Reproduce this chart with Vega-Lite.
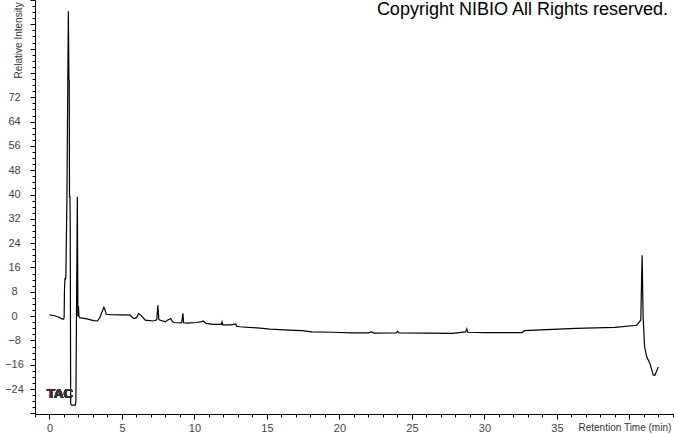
{
  "$schema": "https://vega.github.io/schema/vega-lite/v6.json",
  "width": 639,
  "height": 414,
  "autosize": {"type": "none"},
  "padding": {"left": 35, "top": 0, "right": 0, "bottom": 20},
  "background": "white",
  "config": {
    "view": {"stroke": null},
    "font": "Liberation Sans",
    "axis": {"grid": false, "domainColor": "#000", "tickColor": "#000", "labelColor": "#444", "labelFont": "Liberation Sans", "labelFontSize": 11, "titleFont": "Liberation Sans", "titleFontSize": 10, "titleFontWeight": "normal", "titleColor": "#333", "tickSize": 5}
  },
  "title": {"text": "Copyright NIBIO All Rights reserved.", "anchor": "end", "orient": "top", "offset": -39, "baseline": "alphabetic", "dx": -6, "fontSize": 18, "fontWeight": "normal", "font": "Liberation Sans", "color": "#000"},
  "data": {"values": [
    {"t": 0.00, "v": 0.4}, {"t": 0.30, "v": 0.2}, {"t": 0.60, "v": -0.3}, {"t": 0.90, "v": -1.0}, {"t": 0.98, "v": -1.0},
    {"t": 1.01, "v": -0.3}, {"t": 1.03, "v": 8.0}, {"t": 1.07, "v": 12.5}, {"t": 1.10, "v": 12.0}, {"t": 1.13, "v": 13.0},
    {"t": 1.20, "v": 38.0}, {"t": 1.30, "v": 100.3}, {"t": 1.34, "v": 78.0}, {"t": 1.36, "v": 77.5}, {"t": 1.38, "v": 39.0},
    {"t": 1.41, "v": 39.5}, {"t": 1.43, "v": 30.0}, {"t": 1.46, "v": -28.8}, {"t": 1.52, "v": -29.3}, {"t": 1.78, "v": -29.3},
    {"t": 1.82, "v": -28.0}, {"t": 1.92, "v": 39.3}, {"t": 1.96, "v": 0.0}, {"t": 2.00, "v": 3.3}, {"t": 2.03, "v": 0.0},
    {"t": 2.08, "v": -0.5}, {"t": 2.50, "v": -0.8}, {"t": 3.05, "v": -1.5}, {"t": 3.30, "v": -1.6}, {"t": 3.45, "v": -0.7},
    {"t": 3.62, "v": 1.4}, {"t": 3.75, "v": 2.9}, {"t": 3.80, "v": 2.5}, {"t": 3.92, "v": 0.6}, {"t": 4.20, "v": 0.5},
    {"t": 5.00, "v": 0.4}, {"t": 5.57, "v": 0.3}, {"t": 5.80, "v": -0.8}, {"t": 6.00, "v": -0.5}, {"t": 6.14, "v": 0.9},
    {"t": 6.25, "v": 0.5}, {"t": 6.37, "v": 0.0}, {"t": 6.60, "v": -1.3}, {"t": 7.17, "v": -1.6}, {"t": 7.40, "v": -1.2},
    {"t": 7.47, "v": 3.6}, {"t": 7.54, "v": -1.0}, {"t": 7.60, "v": -1.3}, {"t": 8.00, "v": -1.9}, {"t": 8.10, "v": -1.4},
    {"t": 8.36, "v": -0.8}, {"t": 8.45, "v": -1.6}, {"t": 8.55, "v": -2.1}, {"t": 9.12, "v": -2.2}, {"t": 9.20, "v": 0.9},
    {"t": 9.25, "v": -2.2}, {"t": 9.50, "v": -2.3}, {"t": 10.15, "v": -2.1}, {"t": 10.50, "v": -1.8}, {"t": 10.60, "v": -1.6},
    {"t": 10.80, "v": -2.4}, {"t": 11.30, "v": -2.7}, {"t": 11.85, "v": -2.7}, {"t": 11.90, "v": -1.9}, {"t": 11.95, "v": -2.9},
    {"t": 12.50, "v": -2.9}, {"t": 12.85, "v": -2.6}, {"t": 12.90, "v": -3.3}, {"t": 13.10, "v": -3.5}, {"t": 14.70, "v": -4.0},
    {"t": 15.20, "v": -4.3}, {"t": 16.50, "v": -4.6}, {"t": 17.40, "v": -4.8}, {"t": 18.10, "v": -5.2}, {"t": 19.50, "v": -5.3},
    {"t": 20.90, "v": -5.5}, {"t": 22.00, "v": -5.5}, {"t": 22.20, "v": -5.2}, {"t": 22.40, "v": -5.6}, {"t": 23.90, "v": -5.5},
    {"t": 24.00, "v": -5.0}, {"t": 24.10, "v": -5.5}, {"t": 26.00, "v": -5.6}, {"t": 27.80, "v": -5.7}, {"t": 28.70, "v": -5.2},
    {"t": 28.78, "v": -4.2}, {"t": 28.85, "v": -5.3}, {"t": 30.00, "v": -5.4}, {"t": 32.60, "v": -5.4}, {"t": 32.75, "v": -4.8},
    {"t": 35.10, "v": -4.3}, {"t": 36.30, "v": -4.0}, {"t": 39.00, "v": -3.7}, {"t": 40.50, "v": -3.0}, {"t": 40.78, "v": -1.3},
    {"t": 40.87, "v": 20.0}, {"t": 40.94, "v": -0.2}, {"t": 41.04, "v": -10.0}, {"t": 41.19, "v": -13.4}, {"t": 41.41, "v": -15.6},
    {"t": 41.64, "v": -19.4}, {"t": 41.76, "v": -19.4}, {"t": 41.99, "v": -16.7}
  ]},
  "layer": [
    {
      "mark": {"type": "line", "color": "#000", "strokeWidth": 1.2, "clip": true},
      "encoding": {
        "x": {"field": "t", "type": "quantitative", "scale": {"domain": [-1, 43.07], "nice": false, "zero": false},
          "axis": {"title": "Retention Time (min)", "titleX": 543, "titleY": 13, "titleAlign": "left", "titleBaseline": "middle", "titleAnchor": null,
            "tickCount": 1000, "format": "d",
            "values": [-1,0,1,2,3,4,5,6,7,8,9,10,11,12,13,14,15,16,17,18,19,20,21,22,23,24,25,26,27,28,29,30,31,32,33,34,35,36,37,38,39,40,41,42,43],
            "labelExpr": "datum.value % 5 === 0 && datum.value >= 0 && datum.value <= 35 ? datum.label : ''",
            "tickSize": {"condition": {"test": "datum.value % 5 === 0", "value": 5}, "value": 3},
            "labelPadding": 3, "labelFlush": false, "labelOverlap": false}},
        "y": {"field": "v", "type": "quantitative", "scale": {"domain": [-32.2, 104], "nice": false, "zero": false},
          "axis": {"title": "Relative Intensity", "titleAngle": -90, "titleX": -17, "titleY": 78, "titleAlign": "left", "titleBaseline": "middle", "titleAnchor": null,
            "tickCount": 1000, "format": "d",
            "values": [-32,-30,-28,-26,-24,-22,-20,-18,-16,-14,-12,-10,-8,-6,-4,-2,0,2,4,6,8,10,12,14,16,18,20,22,24,26,28,30,32,34,36,38,40,42,44,46,48,50,52,54,56,58,60,62,64,66,68,70,72,74,76,78,80,82,84,86,88,90,92,94,96,98,100,102,104],
            "labelExpr": "datum.value % 8 === 0 && datum.value >= -24 && datum.value <= 72 ? datum.label : ''",
            "tickSize": {"condition": {"test": "datum.value % 8 === 0", "value": 5}, "value": 3},
            "labelAlign": "center", "labelPadding": 16, "labelOverlap": false, "labelFlush": false}}
      }
    },
    {
      "mark": {"type": "text", "align": "left", "baseline": "middle", "fontSize": 13, "fontWeight": "bold", "font": "Liberation Sans", "color": "#333"},
      "encoding": {
        "x": {"datum": -0.17, "type": "quantitative"},
        "y": {"datum": -25.7, "type": "quantitative"},
        "text": {"value": "TAC"}
      }
    }
  ]
}
